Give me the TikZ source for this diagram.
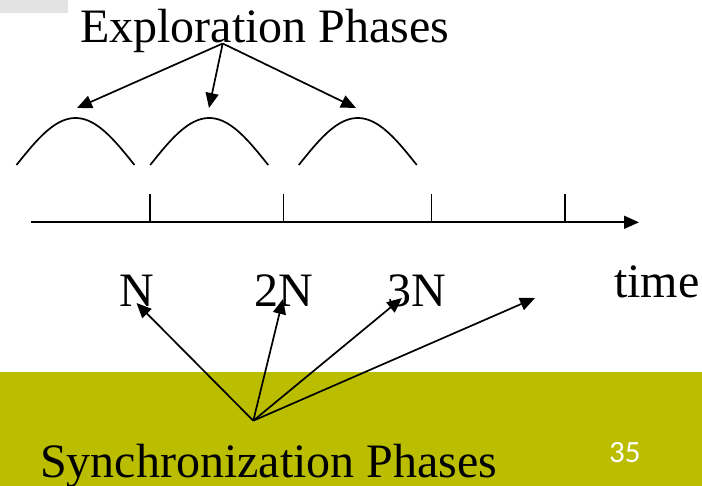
\documentclass[tikz,border=0pt]{standalone}
\usepackage{fontspec}
\setmainfont{Liberation Serif}
\newfontfamily\numfont{Carlito}
\usetikzlibrary{arrows.meta}
\definecolor{bandcol}{RGB}{187,189,0}
\definecolor{tabgray}{RGB}{227,227,227}
\begin{document}
\begin{tikzpicture}[x=1pt,y=-1pt,
  lbl/.style={inner sep=0pt, anchor=base west, font=\fontsize{48}{48}\selectfont},
  line/.style={line width=1.7pt, black},
  arr/.style={line width=1.7pt, -{Triangle[length=15pt,width=13pt]}},
  bump/.style={line width=1.7pt}]
\useasboundingbox (0,0) rectangle (702,486);
% background
\fill[tabgray] (0,0) rectangle (68,13);
\fill[bandcol] (0,372) rectangle (702,486);
% labels
\node[lbl] (expl) at (80,43) {Exploration Phases};
\node[lbl] (n1) at (119,307) {N};
\node[lbl] (n2) at (254,307) {2N};
\node[lbl] (n3) at (387,307) {3N};
\node[lbl] (time) at (614,298) {time};
\node[lbl] (sync) at (40,477) {Synchronization Phases};
\node[inner sep=0pt, anchor=base west, text=white, font=\numfont\fontsize{31}{31}\selectfont] (pg) at (609,462) {35};
% bumps
\foreach \c in {75.5,209.2,357.8}
  \draw[bump] plot[domain=-59:59, samples=50] ({\c+\x},{165-47*cos(180*\x/118)});
% time axis
\coordinate (ax0) at (30.5,222.3);
\coordinate (ax1) at (639,222.3);
\draw[arr] (ax0) -- (ax1);
\foreach \t in {150.2,283.6,431.5,565}
  \draw[line] (\t,194) -- (\t,222.3);
% exploration arrows
\coordinate (eo) at (222.7,43.5);
\coordinate (e1) at (77,108);
\coordinate (e2) at (209,108);
\coordinate (e3) at (356,108);
\draw[arr] (eo) -- (e1);
\draw[arr] (eo) -- (e2);
\draw[arr] (eo) -- (e3);
% synchronization arrows
\coordinate (so) at (253.3,420.7);
\coordinate (s1) at (136.5,303);
\coordinate (s2) at (283,299);
\coordinate (s3) at (402,298);
\coordinate (s4) at (535,298);
\draw[arr] (so) -- (s1);
\draw[arr] (so) -- (s2);
\draw[arr] (so) -- (s3);
\draw[arr] (so) -- (s4);
\end{tikzpicture}
\end{document}
